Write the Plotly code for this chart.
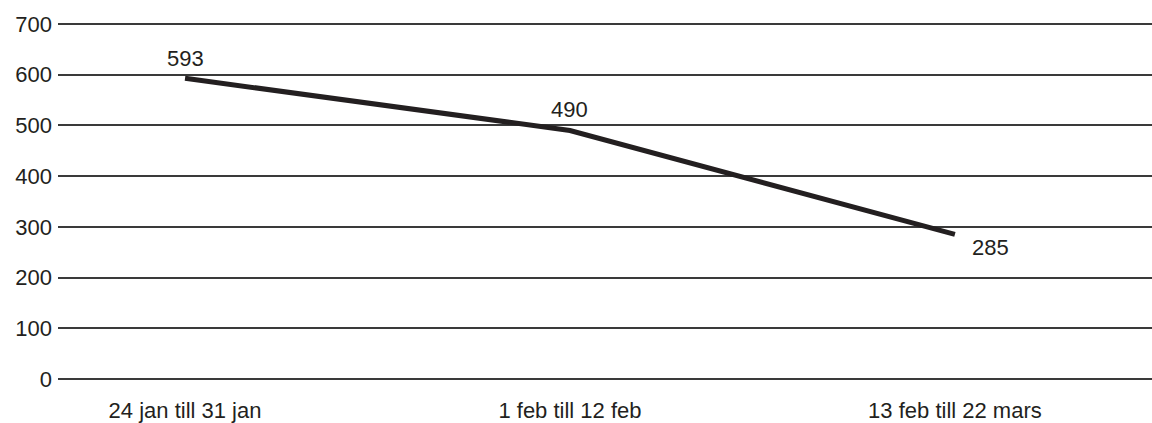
import plotly.graph_objects as go

categories = ["24 jan till 31 jan", "1 feb till 12 feb", "13 feb till 22 mars"]
values = [593, 490, 285]
y_ticks = [0, 100, 200, 300, 400, 500, 600, 700]

INK = "#231f20"
FONT = "Liberation Sans, Arial, sans-serif"
FS = 22

fig = go.Figure()
fig.add_trace(go.Scatter(
    x=categories, y=values, mode="lines",
    line=dict(color=INK, width=5),
    hoverinfo="skip", showlegend=False,
))

# value labels
shifts = [(0, 20), (0, 21), (36, -13)]
for c, v, (dx, dy) in zip(categories, values, shifts):
    fig.add_annotation(x=c, y=v, text=str(v), showarrow=False,
                       xshift=dx, yshift=dy,
                       font=dict(family=FONT, size=FS, color=INK))

fig.update_layout(
    width=1152, height=423,
    margin=dict(l=58, r=0, t=23, b=43),
    paper_bgcolor="white", plot_bgcolor="white",
    font=dict(family=FONT, size=FS, color=INK),
    xaxis=dict(type="category", range=[-0.33, 2.512], showgrid=False,
               zeroline=False, showline=False, ticks="",
               ticklabelstandoff=15, tickfont=dict(size=FS, color=INK)),
    yaxis=dict(range=[-2, 702], tickvals=y_ticks, showgrid=True,
               gridcolor="#3a3a3a", gridwidth=1.5, zeroline=False,
               showline=False, ticks="", ticklabelstandoff=5,
               tickfont=dict(size=FS, color=INK)),
)

fig.write_html(
    "out.html",
    config={"displayModeBar": False},
    post_script="document.body.style.margin='0';document.body.style.overflow='hidden';",
)
